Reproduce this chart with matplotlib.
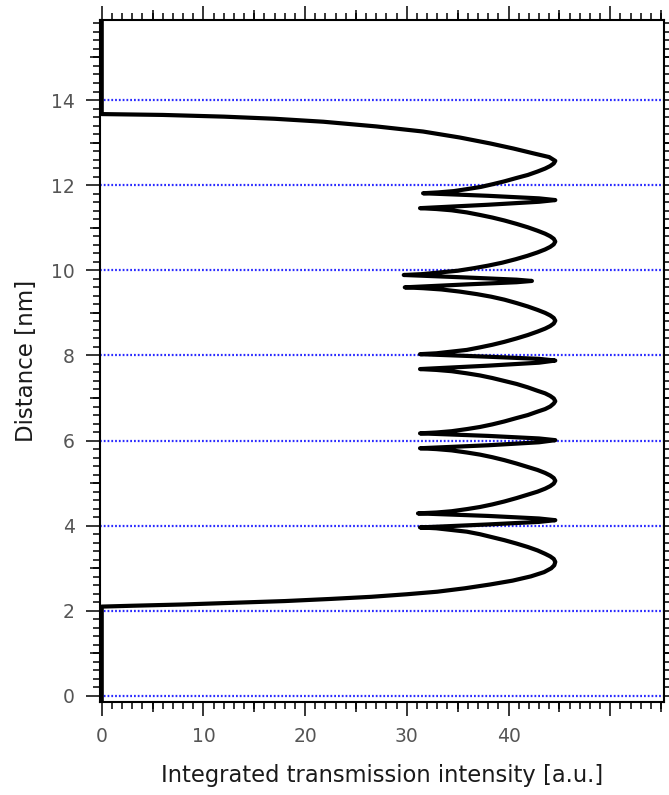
import matplotlib
matplotlib.use('Agg')
import matplotlib.pyplot as plt
from matplotlib.ticker import MultipleLocator, FixedLocator, FixedFormatter, NullFormatter

plt.rcParams['font.family'] = ['DejaVu Sans']

# ---- data ----
intensity = [
    # baseline and first rise
    0, 0, 3, 8, 13, 18, 22.5, 26.5, 30, 33, 35.7, 38.2, 40.4, 42.2, 43.5, 44.2, 44.5, 44.6,
    44.45, 44.1, 43.6, 42.85, 41.9, 40.8, 39.6, 38.4, 37.2, 35.9, 34.4, 32.9, 31.3,
    # spike 1
    38.0, 43.0, 44.6, 43.0, 38.0, 31.1,
    # lobe A
    32.9, 34.4, 35.9, 37.2, 38.4, 39.6, 40.8, 41.9, 42.85, 43.6, 44.1, 44.45, 44.6,
    44.45, 44.1, 43.6, 42.85, 41.9, 40.8, 39.6, 38.4, 37.2, 35.9, 34.4, 32.9, 31.3,
    # spike 2
    38.0, 43.0, 44.6, 43.0, 38.0, 31.3,
    # lobe B
    32.9, 34.4, 35.9, 37.2, 38.4, 39.6, 40.8, 41.9, 42.85, 43.6, 44.1, 44.45, 44.6,
    44.45, 44.1, 43.6, 42.85, 41.9, 40.8, 39.6, 38.4, 37.2, 35.9, 34.4, 32.9, 31.3,
    # spike 3
    38.0, 43.0, 44.6, 43.0, 38.0, 31.3,
    # lobe C
    32.9, 34.4, 35.9, 37.2, 38.4, 39.6, 40.8, 41.9, 42.85, 43.6, 44.1, 44.45, 44.6,
    44.45, 44.1, 43.6, 42.85, 41.9, 40.8, 39.6, 38.3, 36.9, 35.2, 33.4, 31.6, 29.8,
    # spike 4
    36.0, 40.8, 42.3, 40.8, 36.0, 29.7,
    # lobe D
    31.5, 33.3, 35.0, 36.6, 38.0, 39.4, 40.7, 41.85, 42.85, 43.6, 44.1, 44.45, 44.6,
    44.45, 44.1, 43.6, 42.85, 41.9, 40.8, 39.6, 38.4, 37.2, 35.9, 34.4, 32.9, 31.3,
    # spike 5
    38.0, 43.0, 44.6, 43.0, 38.0, 31.6,
    # top lobe and fall
    33.1, 34.6, 36.0, 37.3, 38.4, 39.6, 40.8, 41.9, 42.85, 43.6, 44.1, 44.45, 44.6,
    44.0, 42.4, 40.5, 38.2, 35.2, 31.6, 27.0, 21.8, 17.0, 12.0, 6.0, 0, 0,
]
distance = [
    -0.5, 2.10, 2.12, 2.15, 2.19, 2.23, 2.28, 2.33, 2.39, 2.45, 2.53, 2.62, 2.71, 2.81, 2.91, 3.00, 3.07, 3.15,
    3.22, 3.28, 3.34, 3.42, 3.50, 3.58, 3.66, 3.73, 3.80, 3.86, 3.90, 3.94, 3.96,
    4.03, 4.09, 4.13, 4.17, 4.23, 4.29,
    4.31, 4.34, 4.39, 4.44, 4.50, 4.57, 4.65, 4.73, 4.80, 4.87, 4.93, 4.99, 5.055,
    5.12, 5.18, 5.24, 5.31, 5.38, 5.46, 5.54, 5.61, 5.67, 5.72, 5.77, 5.80, 5.82,
    5.89, 5.96, 6.01, 6.05, 6.11, 6.17,
    6.19, 6.22, 6.27, 6.32, 6.38, 6.45, 6.53, 6.60, 6.68, 6.74, 6.80, 6.87, 6.925,
    6.99, 7.05, 7.11, 7.17, 7.25, 7.33, 7.40, 7.47, 7.53, 7.58, 7.63, 7.66, 7.68,
    7.76, 7.83, 7.88, 7.92, 7.97, 8.03,
    8.05, 8.09, 8.13, 8.19, 8.25, 8.32, 8.40, 8.48, 8.56, 8.63, 8.69, 8.75, 8.815,
    8.88, 8.94, 9.00, 9.07, 9.15, 9.23, 9.31, 9.38, 9.44, 9.50, 9.55, 9.58, 9.60,
    9.67, 9.72, 9.75, 9.78, 9.83, 9.89,
    9.91, 9.95, 9.99, 10.05, 10.11, 10.18, 10.26, 10.34, 10.42, 10.49, 10.55, 10.61, 10.675,
    10.74, 10.80, 10.86, 10.93, 11.01, 11.09, 11.17, 11.24, 11.30, 11.36, 11.41, 11.44, 11.46,
    11.54, 11.61, 11.65, 11.69, 11.75, 11.81,
    11.83, 11.86, 11.91, 11.96, 12.02, 12.09, 12.17, 12.24, 12.32, 12.39, 12.45, 12.51, 12.57,
    12.66, 12.75, 12.86, 12.98, 13.12, 13.26, 13.38, 13.49, 13.56, 13.61, 13.65, 13.67, 16.5,
]
grid_levels = [0, 2, 4, 6, 8, 10, 12, 14]
x_major = [0, 10, 20, 30, 40, 50]
x_major_labels = ['0', '10', '20', '30', '40', '']
x_medium = [5, 15, 25, 35, 45, 55]
y_major = [0, 2, 4, 6, 8, 10, 12, 14]
y_medium = [1, 3, 5, 7, 9, 11, 13, 15]

# ---- figure ----
W, H = 669, 795
fig = plt.figure(figsize=(W / 100, H / 100), dpi=100)
ax = fig.add_axes([99.7 / W, 1 - 701.7 / H, (664 - 99.7) / W, (701.7 - 20) / H])
ax.set_xlim(-0.2, 55.29)
ax.set_ylim(-0.134, 15.88)

for g in grid_levels:
    ax.axhline(g, color='#2a2aff', lw=1.6, linestyle=(0, (0.8, 0.9)), zorder=1)

ax.plot(intensity, distance, color='black', lw=3.0, solid_joinstyle='round',
        solid_capstyle='round', zorder=3)

for s in ax.spines.values():
    s.set_linewidth(1.5)

tick_color = '#555555'
ax.xaxis.set_major_locator(FixedLocator(x_major))
ax.xaxis.set_major_formatter(FixedFormatter(x_major_labels))
ax.xaxis.set_minor_locator(MultipleLocator(1))
ax.yaxis.set_major_locator(FixedLocator(y_major))
ax.yaxis.set_minor_locator(MultipleLocator(0.2))
ax.tick_params(which='both', direction='out', top=True, right=True, width=1.1, color='black')
ax.tick_params(which='major', length=10, labelsize=13.5, labelcolor=tick_color, pad=8)
ax.tick_params(which='minor', length=5)

for side in ['top', 'bottom']:
    sec = ax.secondary_xaxis(side)
    sec.set_xticks(x_medium)
    sec.xaxis.set_major_formatter(NullFormatter())
    sec.tick_params(direction='out', length=7.5, width=1.1)
    sec.spines[side].set_visible(False)
for side in ['left', 'right']:
    sec = ax.secondary_yaxis(side)
    sec.set_yticks(y_medium)
    sec.yaxis.set_major_formatter(NullFormatter())
    sec.tick_params(direction='out', length=7.5, width=1.1)
    sec.spines[side].set_visible(False)

ax.set_xlabel('Integrated transmission intensity [a.u.]', fontsize=16.3, color='#1a1a1a', labelpad=13)
ax.set_ylabel('Distance [nm]', fontsize=16.5, color='#1a1a1a', labelpad=9)

fig.savefig('out.png', dpi=100)
